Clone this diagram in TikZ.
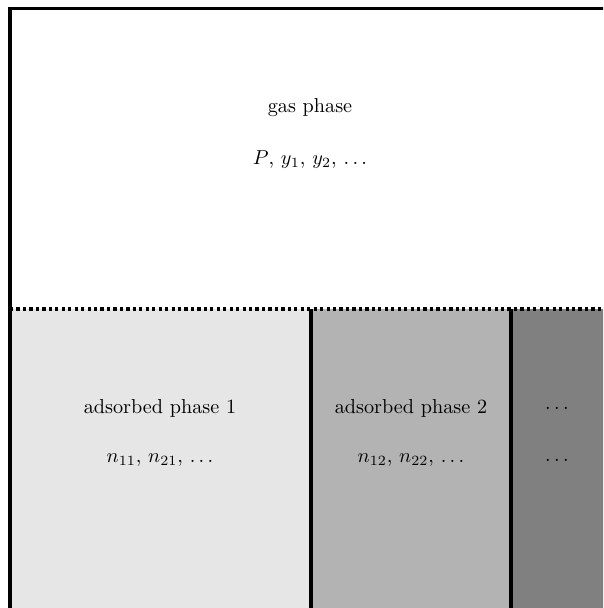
\documentclass[tikz,border=0pt]{standalone}
\usetikzlibrary{positioning}
\definecolor{phaseone}{HTML}{E6E6E6}
\definecolor{phasetwo}{HTML}{B3B3B3}
\definecolor{phasemore}{HTML}{808080}
\tikzset{
  phasewall/.style={draw=black, line width=1.6pt},
  phaseedge/.style={draw=black, line width=1.6pt, dash pattern=on 1.6pt off 1.6pt},
  phaselabel/.style={font=\normalsize, text=black, inner sep=1pt},
}

\begin{document}
\begin{tikzpicture}[x=0.01741cm, y=-0.01741cm]
\useasboundingbox (0, 0) rectangle (603, 608);
\clip (0, 0) rectangle (603, 608);

% Adsorbed phases.
\fill[phaseone] (10, 309) rectangle (311, 640);
\fill[phasetwo] (311, 309) rectangle (511, 640);
\fill[phasemore] (511, 309) rectangle (640, 640);

% Walls and the interface.
\draw[phasewall] (10, 640) -- (10, 8.5) -- (640, 8.5);
\draw[phaseedge] (10, 309) -- (640, 309);
\draw[phasewall] (311, 309) -- (311, 640);
\draw[phasewall] (511, 309) -- (511, 640);

% Labels.
\node[phaselabel] (gas) at (310, 108) {gas phase};
\node[phaselabel] (gasvars) at (310, 160) {$P$, $y_1$, $y_2$, $\ldots$};
\node[phaselabel] (adsone) at (160, 408) {adsorbed phase 1};
\node[phaselabel] (adsonevars) at (160, 460) {$n_{11}$, $n_{21}$, $\ldots$};
\node[phaselabel] (adstwo) at (411, 408) {adsorbed phase 2};
\node[phaselabel] (adstwovars) at (411, 460) {$n_{12}$, $n_{22}$, $\ldots$};
\node[phaselabel] (adsmore) at (557, 408) {$\ldots$};
\node[phaselabel] (adsmorevars) at (557, 460) {$\ldots$};

\end{tikzpicture}
\end{document}
